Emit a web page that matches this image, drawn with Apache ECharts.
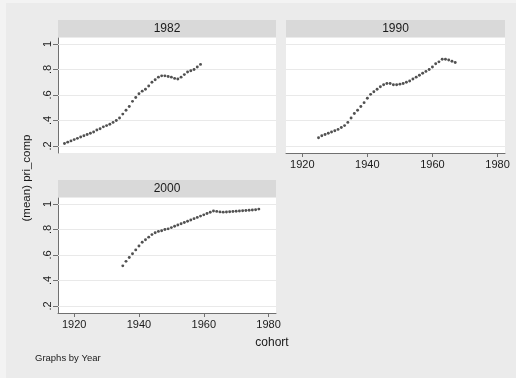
<!DOCTYPE html>
<html>
<head>
<meta charset="utf-8">
<script src="https://cdn.jsdelivr.net/npm/echarts@6/dist/echarts.min.js"></script>
<style>
html,body{margin:0;padding:0;background:#ebebeb;}
#c{width:516px;height:378px;}
</style>
</head>
<body>
<div id="c"></div>
<script>
// ---- data ----
const panelTitles = ['1982', '1990', '2000'];
const cohort1982 = [1917,1918,1919,1920,1921,1922,1923,1924,1925,1926,1927,1928,1929,1930,1931,1932,1933,1934,1935,1936,1937,1938,1939,1940,1941,1942,1943,1944,1945,1946,1947,1948,1949,1950,1951,1952,1953,1954,1955,1956,1957,1958,1959];
const mean1982 = [0.22,0.23,0.24,0.25,0.26,0.27,0.28,0.29,0.30,0.31,0.325,0.335,0.35,0.36,0.37,0.385,0.40,0.42,0.45,0.48,0.51,0.55,0.58,0.61,0.63,0.645,0.67,0.70,0.72,0.74,0.75,0.75,0.745,0.74,0.73,0.725,0.74,0.76,0.78,0.79,0.80,0.82,0.84];
const cohort1990 = [1925,1926,1927,1928,1929,1930,1931,1932,1933,1934,1935,1936,1937,1938,1939,1940,1941,1942,1943,1944,1945,1946,1947,1948,1949,1950,1951,1952,1953,1954,1955,1956,1957,1958,1959,1960,1961,1962,1963,1964,1965,1966,1967];
const mean1990 = [0.265,0.28,0.29,0.30,0.31,0.32,0.33,0.345,0.36,0.385,0.42,0.455,0.48,0.51,0.54,0.575,0.605,0.625,0.645,0.665,0.68,0.69,0.69,0.68,0.68,0.685,0.69,0.70,0.71,0.725,0.74,0.755,0.77,0.785,0.80,0.82,0.845,0.86,0.88,0.88,0.875,0.865,0.855];
const cohort2000 = [1935,1936,1937,1938,1939,1940,1941,1942,1943,1944,1945,1946,1947,1948,1949,1950,1951,1952,1953,1954,1955,1956,1957,1958,1959,1960,1961,1962,1963,1964,1965,1966,1967,1968,1969,1970,1971,1972,1973,1974,1975,1976,1977];
const mean2000 = [0.515,0.55,0.58,0.61,0.64,0.67,0.70,0.72,0.74,0.76,0.775,0.785,0.79,0.80,0.805,0.815,0.825,0.835,0.845,0.855,0.865,0.875,0.885,0.895,0.905,0.915,0.925,0.935,0.945,0.942,0.938,0.936,0.937,0.939,0.941,0.943,0.945,0.947,0.949,0.951,0.953,0.955,0.96];
const yTicks = [0.2, 0.4, 0.6, 0.8, 1];
const xTicks = [1920, 1940, 1960, 1980];
const yTitle = '(mean) pri_comp';
const xTitle = 'cohort';
const note = 'Graphs by Year';

// ---- layout ----
const FONT = 'Liberation Sans, Arial, sans-serif';
const grids = [
  {left: 58, top: 38, width: 218, height: 115},
  {left: 286, top: 38, width: 219, height: 115},
  {left: 58, top: 198, width: 218, height: 115}
];
const showX = [false, true, true];
const showY = [true, false, true];
const seriesData = [
  cohort1982.map((c, i) => [c, mean1982[i]]),
  cohort1990.map((c, i) => [c, mean1990[i]]),
  cohort2000.map((c, i) => [c, mean2000[i]])
];

const fmtY = v => (Math.abs(v - 1) < 1e-9 ? '1' : String(+v.toFixed(1)).replace(/^0/, ''));
const fmtX = v => String(Math.round(v));

const option = {
  backgroundColor: '#ebebeb',
  animation: false,
  grid: grids.map(g => Object.assign({show: true, backgroundColor: '#ffffff', borderWidth: 0}, g)),
  xAxis: grids.map((g, i) => ({
    type: 'value', gridIndex: i, min: 1915, max: 1982.3,
    axisLine: {show: showX[i], onZero: false, lineStyle: {color: '#707070', width: 1}},
    axisTick: {show: showX[i], length: 4, customValues: xTicks, lineStyle: {color: '#707070'}},
    axisLabel: {show: showX[i], customValues: xTicks, formatter: fmtX, color: '#1a1a1a', fontFamily: FONT, fontSize: 11, margin: 6},
    splitLine: {show: false}
  })),
  yAxis: grids.map((g, i) => ({
    type: 'value', gridIndex: i, min: 0.145, max: 1.047,
    axisLine: {show: showY[i], onZero: false, lineStyle: {color: '#707070', width: 1}},
    axisTick: {show: showY[i], length: 5, customValues: yTicks, lineStyle: {color: '#707070'}},
    axisLabel: {show: showY[i], customValues: yTicks, rotate: 90, formatter: fmtY, color: '#1a1a1a', fontFamily: FONT, fontSize: 11, margin: 5},
    splitLine: {show: false}
  })),
  series: [].concat(
    seriesData.map((d, i) => ({
      type: 'line', xAxisIndex: i, yAxisIndex: i, data: d, symbol: 'none', silent: true,
      lineStyle: {opacity: 0}, z: 1,
      markLine: {
        silent: true, symbol: 'none', label: {show: false}, animation: false,
        lineStyle: {color: '#e9e9e9', width: 1, type: 'solid'},
        data: yTicks.map(v => ({yAxis: v}))
      }
    })),
    seriesData.map((d, i) => ({
      type: 'scatter', xAxisIndex: i, yAxisIndex: i, data: d, z: 5,
      symbol: 'circle', symbolSize: 2.9, itemStyle: {color: '#262626'}
    }))
  ),
  graphic: [].concat(
    [
      {type: 'rect', left: 0, top: 0, shape: {width: 6, height: 378}, style: {fill: '#f3f3f3'}, silent: true},
      {type: 'rect', left: 0, top: 0, shape: {width: 516, height: 3}, style: {fill: '#f3f3f3'}, silent: true}
    ],
    grids.map((g, i) => ({
      type: 'group', silent: true,
      children: [
        {type: 'rect', shape: {x: g.left, y: g.top - 18, width: g.width, height: 17}, style: {fill: '#d9d9d9'}},
        {type: 'text', x: g.left + g.width / 2, y: g.top - 9.5,
          style: {text: panelTitles[i], font: '12px ' + FONT, fill: '#1a1a1a', align: 'center', verticalAlign: 'middle'}}
      ]
    })),
    [
      {type: 'text', silent: true, x: 27, y: 178, rotation: Math.PI / 2,
        style: {text: yTitle, font: '11.5px ' + FONT, fill: '#1a1a1a', align: 'center', verticalAlign: 'middle'}},
      {type: 'text', silent: true, x: 272, y: 343,
        style: {text: xTitle, font: '12px ' + FONT, fill: '#1a1a1a', align: 'center', verticalAlign: 'middle'}},
      {type: 'text', silent: true, x: 35, y: 358,
        style: {text: note, font: '9.5px ' + FONT, fill: '#1a1a1a', align: 'left', verticalAlign: 'middle'}}
    ]
  )
};

const chart = echarts.init(document.getElementById('c'), null, {renderer: 'canvas'});
chart.setOption(option);
</script>
</body>
</html>
